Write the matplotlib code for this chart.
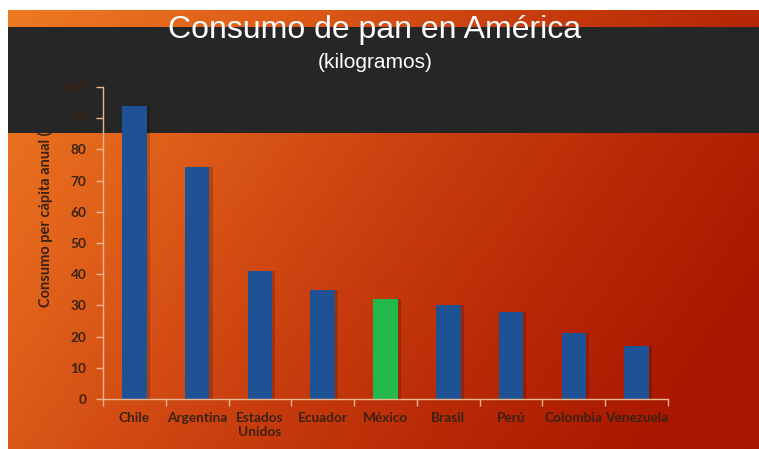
import numpy as np
import matplotlib
matplotlib.use("Agg")
import matplotlib.pyplot as plt
from matplotlib.patches import Rectangle
from matplotlib.colors import LinearSegmentedColormap

# ---- data ----
paises = ["Chile", "Argentina", "Estados\nUnidos", "Ecuador", "México",
          "Brasil", "Perú", "Colombia", "Venezuela"]
consumo = [94, 74.5, 41, 35, 32, 30, 28, 21, 17]
colores = ["#1F5295", "#1F5295", "#1F5295", "#1F5295", "#22B84C",
           "#1F5295", "#1F5295", "#1F5295", "#1F5295"]
yticks = [0, 10, 20, 30, 40, 50, 60, 70, 80, 90, 100]
titulo = "Consumo de pan en América"
subtitulo = "(kilogramos)"
ylabel = "Consumo per cápita anual (kg)"

W, H = 759, 449
fig = plt.figure(figsize=(W / 100, H / 100), dpi=100)
fig.patch.set_facecolor("white")

# ---- gradient background ----
bg = fig.add_axes([8 / W, 0, 1 - 8 / W, 1 - 10 / H], zorder=-3)
bg.set_axis_off()
nx, ny = 300, 200
xx, yy = np.meshgrid(np.linspace(0, 1, nx), np.linspace(0, 1, ny))
t = np.clip(0.78 * xx + 0.32 * yy, 0, 1)
cmap = LinearSegmentedColormap.from_list(
    "g", ["#EE7A22", "#E0601A", "#CC4210", "#B82A06", "#A81600"])
bg.imshow(t, cmap=cmap, aspect="auto", extent=[0, 1, 0, 1], origin="upper",
          interpolation="bilinear")
bg.set_xlim(0, 1)
bg.set_ylim(0, 1)

# ---- y label (beneath the dark band) ----
fig.text(45 / W, 1 - 307 / H, ylabel, rotation=90, ha="center", va="bottom",
         fontsize=10.5, fontweight="bold", family=["Lato", "DejaVu Sans"],
         color="#3A2214", zorder=-2)

# ---- dark band ----
band = Rectangle((8 / W, 1 - 133 / H), 1 - 8 / W, 106 / H,
                 transform=fig.transFigure, facecolor="#262626",
                 edgecolor="none", zorder=-1)
fig.patches.append(band)

# ---- chart ----
ax = fig.add_axes([103 / W, 1 - 399 / H, 565 / W, 312 / H], zorder=0)
ax.patch.set_alpha(0)
x = np.arange(len(paises))
ax.bar(x + 0.05, consumo, width=0.39, color="#000000", alpha=0.18, zorder=1)
ax.bar(x, consumo, width=0.39, color=colores, zorder=2)
ax.set_xlim(-0.5, len(paises) - 0.5)
ax.set_ylim(0, 100)
ax.set_yticks(yticks)
ax.set_xticks(x)
ax.set_xticklabels(paises)
ax.set_xticks(np.arange(-0.5, len(paises), 1), minor=True)
ax.tick_params(axis="x", which="major", length=0, pad=9)
ax.tick_params(axis="x", which="minor", length=5, color="#E8B890", width=1,
               direction="out")
ax.tick_params(axis="y", length=5, color="#E8B890", width=1, direction="out",
               pad=7)
for lab in ax.get_xticklabels() + ax.get_yticklabels():
    lab.set_fontsize(9.8)
    lab.set_fontweight("bold")
    lab.set_family(["Lato", "DejaVu Sans"])
    lab.set_color("#3A2214")
for s in ["top", "right"]:
    ax.spines[s].set_visible(False)
for s in ["left", "bottom"]:
    ax.spines[s].set_color("#E8B890")
    ax.spines[s].set_linewidth(1)

# ---- titles ----
fig.text(375 / W, 1 - 30 / H, titulo, ha="center", va="center",
         fontsize=23, color="white", family=["Liberation Sans", "DejaVu Sans"],
         zorder=5)
fig.text(375 / W, 1 - 62 / H, subtitulo, ha="center", va="center",
         fontsize=15, color="white", family=["Liberation Sans", "DejaVu Sans"],
         zorder=5)

fig.savefig("out.png", dpi=100, facecolor=fig.get_facecolor())
